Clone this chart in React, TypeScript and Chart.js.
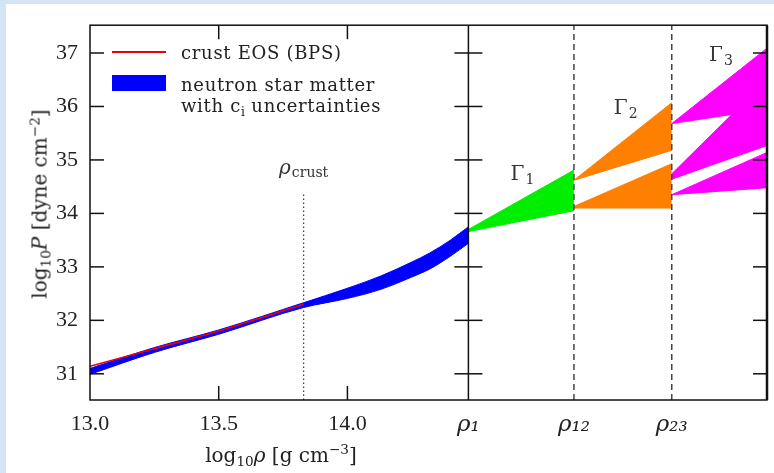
import React, { useEffect, useRef } from "react";
import { Chart, registerables } from "chart.js";

Chart.register(...registerables);

// ---------- axis ranges & tick data ----------
const X_MIN = 13.0;
const X_MAX = 15.63;
const Y_MIN = 30.51;
const Y_MAX = 37.52;

const RHO_CRUST = 13.83;
const RHO_1 = 14.47;
const RHO_12 = 14.88;
const RHO_23 = 15.26;

const X_TICK_VALUES = [13.0, 13.5, 14.0, RHO_1, RHO_12, RHO_23];
const X_TICK_LABELS = ["13.0", "13.5", "14.0", "ρ₁", "ρ₁₂", "ρ₂₃"];
const X_INNER_TICKS = [13.5, 14.0];
const Y_TICK_VALUES = [31, 32, 33, 34, 35, 36, 37];

// ---------- crust EOS (BPS) ----------
const CRUST_X = [13.0, 13.25, 13.5, 13.83];
const CRUST_P = [31.14, 31.47, 31.8, 32.3];

// ---------- neutron star matter band ----------
const NSM_X = [13.0, 13.25, 13.5, 13.83, 14.0, 14.13, 14.25, 14.32, 14.4, 14.47];
const NSM_UPPER = [31.1, 31.49, 31.82, 32.33, 32.6, 32.83, 33.09, 33.26, 33.5, 33.75];
const NSM_LOWER = [30.99, 31.4, 31.74, 32.24, 32.41, 32.58, 32.81, 32.96, 33.2, 33.44];

// ---------- polytrope segments ----------
const G1_X = [RHO_1, RHO_12];
const G1_UPPER = [33.7, 34.81];
const G1_LOWER = [33.66, 34.05];

const G2_X = [RHO_12, RHO_23];
const G2A_UPPER = [34.62, 36.07];
const G2A_LOWER = [34.62, 35.18];
const G2B_UPPER = [34.13, 34.93];
const G2B_LOWER = [34.1, 34.1];

const G3_X = [RHO_23, X_MAX];
const G3A_UPPER = [35.68, 37.09];
const G3A_LOWER = [35.68, 35.95];
const G3B_UPPER = [34.74, 36.5];
const G3B_LOWER = [34.64, 35.27];
const G3C_UPPER = [34.35, 35.14];
const G3C_LOWER = [34.35, 34.48];

// ---------- vertical markers ----------
const CRUST_MARK_P = [Y_MIN, 34.37];
const FULL_P = [Y_MIN, Y_MAX];

// ---------- annotations ----------
const GAMMA_SUBS = ["1", "2", "3"];
const GAMMA_X = [14.634, 15.035, 15.405];
const GAMMA_P = [34.63, 35.86, 36.85];
const CRUST_LABEL_P = 34.74;

const BLUE = "#0000ff";
const RED = "#ee0000";
const GREEN = "#00ee00";
const ORANGE = "#ff7f00";
const MAGENTA = "#ff00ff";

const pts = (xs: number[], ys: number[]) => xs.map((x, i) => ({ x, y: ys[i] }));

function band(label: string, xs: number[], upper: number[], lower: number[], color: string, smooth = false) {
  const common = {
    borderColor: color,
    backgroundColor: color,
    borderWidth: 1,
    pointRadius: 0,
    pointHoverRadius: 0,
    order: 5,
    cubicInterpolationMode: smooth ? "monotone" : "default",
  };
  return [
    { ...common, label, data: pts(xs, upper), fill: "+1" },
    { ...common, label: label + " (lower)", data: pts(xs, lower), fill: false },
  ];
}

function vline(label: string, x: number, ys: number[], color: string, width: number, dash: number[], order: number) {
  return {
    label,
    data: ys.map((y) => ({ x, y })),
    borderColor: color,
    borderWidth: width,
    borderDash: dash,
    pointRadius: 0,
    pointHoverRadius: 0,
    fill: false,
    order,
  };
}

const SERIF = '"DejaVu Serif", "Liberation Serif", serif';
const TIMES = '"Liberation Serif", "DejaVu Serif", serif';

const decorPlugin = {
  id: "decor",
  afterDatasetsDraw(chart: any) {
    const { ctx, chartArea: a, scales } = chart;
    const x = scales.x;
    const y = scales.y;
    const seg = (x1: number, y1: number, x2: number, y2: number) => {
      ctx.beginPath();
      ctx.moveTo(x1, y1);
      ctx.lineTo(x2, y2);
      ctx.stroke();
    };
    ctx.save();
    ctx.strokeStyle = "#111";
    ctx.lineWidth = 1.5;
    const pr1 = x.getPixelForValue(RHO_1);
    for (const v of Y_TICK_VALUES) {
      const py = y.getPixelForValue(v);
      seg(a.left, py, a.left + 14, py);
      seg(a.right - 14, py, a.right, py);
      seg(pr1 - 14, py, pr1 + 14, py);
    }
    for (const v of X_INNER_TICKS) {
      const px = x.getPixelForValue(v);
      seg(px, a.bottom, px, a.bottom - 14);
      seg(px, a.top, px, a.top + 14);
    }
    ctx.strokeRect(a.left, a.top, a.right - a.left, a.bottom - a.top);
    ctx.lineWidth = 2.5;
    seg(a.right, a.top, a.right, a.bottom);

    // Γ labels
    ctx.fillStyle = "#333";
    ctx.textBaseline = "alphabetic";
    ctx.textAlign = "left";
    for (let i = 0; i < GAMMA_X.length; i++) {
      const px = x.getPixelForValue(GAMMA_X[i]);
      const py = y.getPixelForValue(GAMMA_P[i]);
      ctx.font = `20px ${SERIF}`;
      ctx.fillText("Γ", px, py);
      const w = ctx.measureText("Γ").width;
      ctx.font = `14px ${SERIF}`;
      ctx.fillText(GAMMA_SUBS[i], px + w + 1, py + 4);
    }
    // ρ_crust label
    const cx = x.getPixelForValue(RHO_CRUST);
    const cy = y.getPixelForValue(CRUST_LABEL_P);
    ctx.font = `italic 20px ${SERIF}`;
    const w1 = ctx.measureText("ρ").width;
    ctx.font = `14px ${SERIF}`;
    const w2 = ctx.measureText("crust").width;
    const start = cx - (w1 + w2 + 1) / 2;
    ctx.font = `italic 20px ${SERIF}`;
    ctx.fillText("ρ", start, cy);
    ctx.font = `14px ${SERIF}`;
    ctx.fillText("crust", start + w1 + 1, cy + 3);
    ctx.restore();
  },
};

export default function App() {
  const canvasRef = useRef<HTMLCanvasElement | null>(null);

  useEffect(() => {
    const canvas = canvasRef.current;
    if (!canvas) return;
    const datasets: any[] = [
      vline("rho_1", RHO_1, FULL_P, "#111", 1.5, [], 0),
      vline("rho_12", RHO_12, FULL_P, "#444", 1.5, [6, 4], 0),
      vline("rho_23", RHO_23, FULL_P, "#444", 1.5, [6, 4], 0),
      vline("rho_crust", RHO_CRUST, CRUST_MARK_P, "#333", 1.2, [1.5, 2.5], 0),
      {
        label: "crust EOS (BPS)",
        data: pts(CRUST_X, CRUST_P),
        borderColor: RED,
        borderWidth: 1.6,
        pointRadius: 0,
        pointHoverRadius: 0,
        fill: false,
        order: 1,
        cubicInterpolationMode: "monotone",
      },
      ...band("neutron star matter with c_i uncertainties", NSM_X, NSM_UPPER, NSM_LOWER, BLUE, true),
      ...band("Gamma1", G1_X, G1_UPPER, G1_LOWER, GREEN),
      ...band("Gamma2a", G2_X, G2A_UPPER, G2A_LOWER, ORANGE),
      ...band("Gamma2b", G2_X, G2B_UPPER, G2B_LOWER, ORANGE),
      ...band("Gamma3a", G3_X, G3A_UPPER, G3A_LOWER, MAGENTA),
      ...band("Gamma3b", G3_X, G3B_UPPER, G3B_LOWER, MAGENTA),
      ...band("Gamma3c", G3_X, G3C_UPPER, G3C_LOWER, MAGENTA),
    ];

    const chart = new Chart(canvas, {
      type: "line",
      data: { datasets },
      options: {
        animation: false,
        responsive: false,
        events: [],
        layout: { padding: { top: 22, right: 7, left: 0, bottom: 0 } },
        plugins: {
          legend: { display: false },
          tooltip: { enabled: false },
        },
        elements: { line: { tension: 0 } },
        scales: {
          x: {
            type: "linear",
            min: X_MIN,
            max: X_MAX,
            grid: { display: false, drawTicks: false },
            border: { display: false },
            afterBuildTicks: (scale: any) => {
              scale.ticks = X_TICK_VALUES.map((v) => ({ value: v }));
            },
            afterFit: (scale: any) => {
              scale.height = 73;
            },
            ticks: {
              autoSkip: false,
              maxRotation: 0,
              padding: 11,
              color: "#222",
              font: (c: any) =>
                c.tick && c.tick.value > 14.3
                  ? { family: SERIF, size: 23, style: "italic" }
                  : { family: TIMES, size: 22 },
              callback: (value: any) => {
                const i = X_TICK_VALUES.findIndex((v) => Math.abs(v - Number(value)) < 1e-6);
                return i >= 0 ? X_TICK_LABELS[i] : "";
              },
            },
          },
          y: {
            type: "linear",
            min: Y_MIN,
            max: Y_MAX,
            grid: { display: false, drawTicks: false },
            border: { display: false },
            afterBuildTicks: (scale: any) => {
              scale.ticks = Y_TICK_VALUES.map((v) => ({ value: v }));
            },
            afterFit: (scale: any) => {
              scale.width = 90;
            },
            ticks: {
              padding: 12,
              color: "#222",
              font: { family: TIMES, size: 22 },
              callback: (value: any) => String(value),
            },
          },
        },
      },
      plugins: [decorPlugin],
    } as any);
    return () => chart.destroy();
  }, []);

  const textStyle: React.CSSProperties = {
    position: "absolute",
    fontFamily: SERIF,
    fontSize: 18,
    color: "#222",
    whiteSpace: "nowrap",
    letterSpacing: "0.7px",
    lineHeight: "21px",
  };
  const sub: React.CSSProperties = { fontSize: "0.68em", verticalAlign: "-0.3em", lineHeight: 0, letterSpacing: 0 };
  const sup: React.CSSProperties = { fontSize: "0.68em", verticalAlign: "0.55em", lineHeight: 0, letterSpacing: 0 };

  return (
    <div
      style={{
        position: "fixed",
        left: 0,
        top: 0,
        width: 774,
        height: 473,
        background: "#d4e4f4",
        overflow: "hidden",
      }}
    >
      <div style={{ position: "absolute", left: 6, top: 4, right: 0, bottom: 0, background: "#ffffff" }} />
      <canvas ref={canvasRef} width={774} height={473} style={{ position: "absolute", left: 0, top: 0 }} />

      {/* legend */}
      <div style={{ position: "absolute", left: 112, top: 51, width: 54, height: 2, background: RED }} />
      <div style={{ ...textStyle, left: 181, top: 42 }}>crust EOS (BPS)</div>
      <div style={{ position: "absolute", left: 112, top: 75, width: 54, height: 16, background: BLUE }} />
      <div style={{ ...textStyle, left: 181, top: 74 }}>
        neutron star matter
        <br />
        with c<span style={sub}>i</span> uncertainties
      </div>

      {/* y title */}
      <div
        style={{
          ...textStyle,
          letterSpacing: 0,
          fontSize: 20,
          left: 40,
          top: 204,
          transform: "translate(-50%, -50%) rotate(-90deg)",
        }}
      >
        log<span style={sub}>10</span>
        <i>P</i> [dyne cm<span style={sup}>−2</span>]
      </div>

      {/* x title */}
      <div
        style={{
          ...textStyle,
          letterSpacing: 0,
          fontSize: 20,
          left: 281,
          top: 455,
          transform: "translate(-50%, -50%)",
        }}
      >
        log<span style={sub}>10</span>
        <i>ρ</i> [g cm<span style={sup}>−3</span>]
      </div>
    </div>
  );
}
